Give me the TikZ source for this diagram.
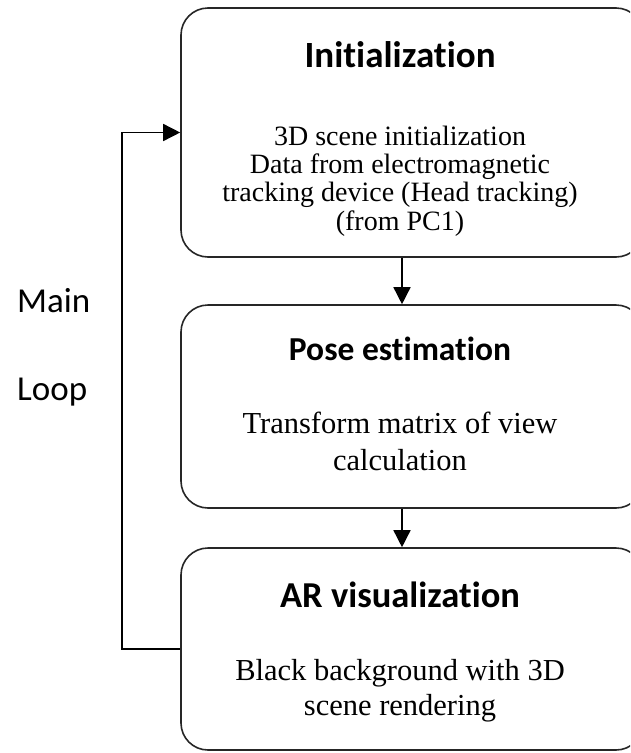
\documentclass[tikz,border=0pt]{standalone}
\usepackage{fontspec}
\setmainfont{Liberation Serif}
\newfontfamily\calibri{Carlito}[Ligatures=NoCommon]
\usetikzlibrary{arrows.meta}
\begin{document}
\begin{tikzpicture}[x=1pt,y=-1pt,
  stage/.style={draw=black!85, line width=1.6pt, rounded corners=27pt,
    minimum width=462pt, inner sep=0pt},
  stagetitle/.style={anchor=base, inner sep=0pt,
    font=\calibri\bfseries\fontsize{37}{44}\selectfont},
  stagetext/.style={anchor=base, inner sep=0pt,
    font=\fontsize{30.5}{36}\selectfont},
  smalltext/.style={stagetext, font=\fontsize{28}{34}\selectfont},
  flow/.style={draw=black, line width=1.5pt,
    -{Triangle[length=17pt,width=17pt]}},
  side/.style={anchor=base west, inner sep=0pt,
    font=\calibri\fontsize{35}{42}\selectfont}]

\useasboundingbox (0,0) rectangle (630,753);
\clip (0,0) rectangle (630,753);

% stage boxes (right side runs past the frame)
\node[stage, minimum height=249pt] (b1) at (412,132.5) {};
\node[stage, minimum height=203pt] (b2) at (412,406.5) {};
\node[stage, minimum height=202pt] (b3) at (412,649) {};

% stage 1
\node[stagetitle] (t1) at (400,67) {Initialization};
\node[smalltext] (l11) at (400,145) {3D scene initialization};
\node[smalltext] (l12) at (400,173.3) {Data from electromagnetic};
\node[smalltext] (l13) at (400,201.6) {tracking device (Head tracking)};
\node[smalltext] (l14) at (400,230) {(from PC1)};

% stage 2
\node[stagetitle, font=\calibri\bfseries\fontsize{33.5}{40}\selectfont] (t2) at (400,360) {Pose estimation};
\node[stagetext] (l21) at (400,433) {Transform matrix of view};
\node[stagetext] (l22) at (400,470) {calculation};

% stage 3
\node[stagetitle, font=\calibri\bfseries\fontsize{36.5}{44}\selectfont] (t3) at (400,607) {AR visualization};
\node[stagetext] (l31) at (400,680) {Black background with 3D};
\node[stagetext] (l32) at (400,715) {scene rendering};

% loop label
\node[side] (m1) at (17,312) {Main};
\node[side] (m2) at (17,400) {Loop};

% connectors
\coordinate (ax) at (402,0);
\draw[flow] (ax |- b1.south) -- (ax |- b2.north);
\draw[flow] (ax |- b2.south) -- (ax |- b3.north);
\draw[flow] (b3.west) -- ++(-58,0) |- (b1.west);
\end{tikzpicture}
\end{document}
